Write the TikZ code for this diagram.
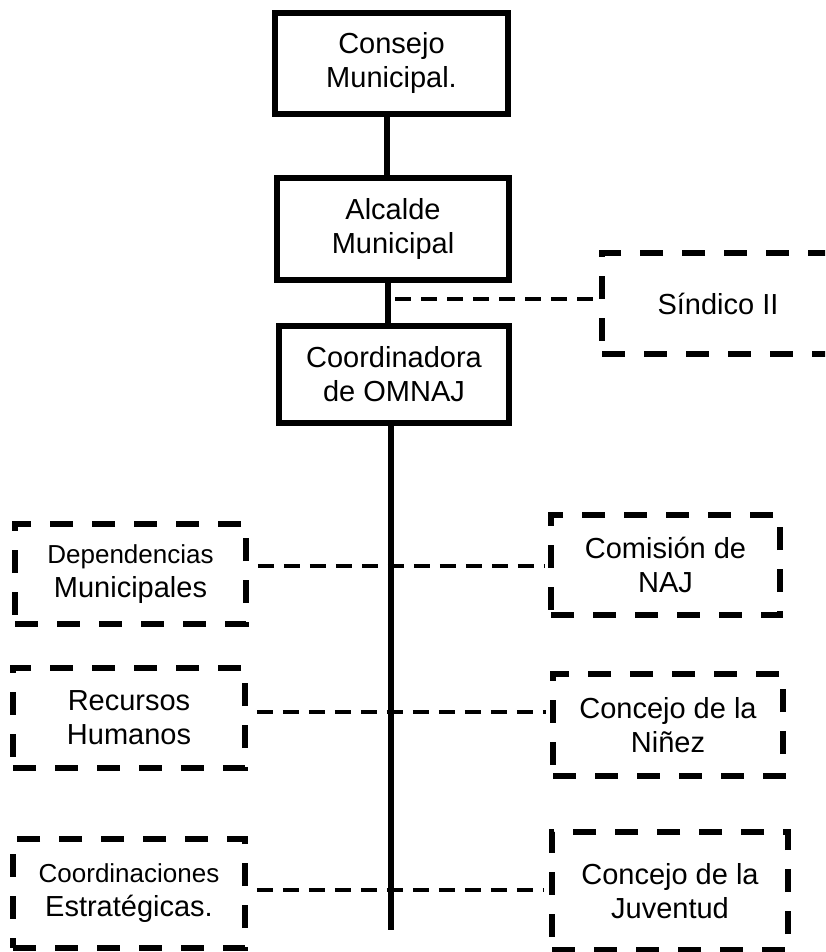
\documentclass[tikz,border=0pt]{standalone}
\usepackage{fontspec}
\setmainfont{Liberation Sans}
\begin{document}
\begin{tikzpicture}[x=1pt,y=-1pt,
  txt/.style={inner sep=0pt, align=center, font=\fontsize{29}{34}\selectfont},
  solidbox/.style={txt, draw, line width=6pt},
  dashbox/.style={txt, draw, line width=5.5pt, dash pattern=on 23pt off 19pt},
  spine/.style={line width=6pt},
  link/.style={line width=4pt, dash pattern=on 16pt off 10pt}]
\useasboundingbox (0,0) rectangle (825,952);
\clip (0,0) rectangle (825,952);
\fill[white] (0,0) rectangle (825,952);
% solid boxes
\node[solidbox, minimum width=233pt, minimum height=101pt] (cm) at (391.5,63.5) {Consejo\\Municipal.};
\node[solidbox, minimum width=232pt, minimum height=102pt] (al) at (393,229) {Alcalde\\Municipal};
\node[solidbox, minimum width=230pt, minimum height=97pt] (co) at (394,374.5) {Coordinadora\\de OMNAJ};
% dashed boxes
\node[dashbox, minimum width=232pt, minimum height=101pt] (si) at (718,303.5) {Síndico II};
\node[dashbox, minimum width=231pt, minimum height=100pt] (de) at (130.5,574) {{\fontsize{26}{32}\selectfont Dependencias}\\Municipales};
\node[dashbox, minimum width=232pt, minimum height=100pt] (re) at (129,718) {Recursos\\Humanos};
\node[dashbox, minimum width=232pt, minimum height=109pt] (cs) at (129,893.5) {{\fontsize{26}{34}\selectfont Coordinaciones}\\Estratégicas.};
\node[dashbox, minimum width=229pt, minimum height=100pt] (cn) at (665.5,565) {Comisión de\\NAJ};
\node[dashbox, minimum width=230pt, minimum height=102pt] (ni) at (668,725) {Concejo de la\\Niñez};
\node[dashbox, minimum width=236pt, minimum height=118pt] (ju) at (670,891) {Concejo de la\\Juventud};
% solid connectors
\draw[spine] ([xshift=-5pt]cm.south) -- ([xshift=-5pt]cm.south |- al.north);
\draw[spine] ([xshift=-5pt]al.south) -- ([xshift=-5pt]al.south |- co.north);
\coordinate (end) at (391,930);
\draw[spine] (co.south -| end) -- (end);
% dashed connectors
\coordinate (j0) at (395,299);
\draw[link] (j0) -- (j0 -| si.west);
\coordinate (r1) at (391,566);
\coordinate (r2) at (391,712);
\coordinate (r3) at (391,890);
\draw[link, shorten <=9pt, shorten >=4pt] (r1 -| de.east) -- (r1 -| cn.west);
\draw[link, shorten <=9pt, shorten >=4pt] (r2 -| re.east) -- (r2 -| ni.west);
\draw[link, shorten <=9pt, shorten >=6pt] (r3 -| cs.east) -- (r3 -| ju.west);
\end{tikzpicture}
\end{document}
